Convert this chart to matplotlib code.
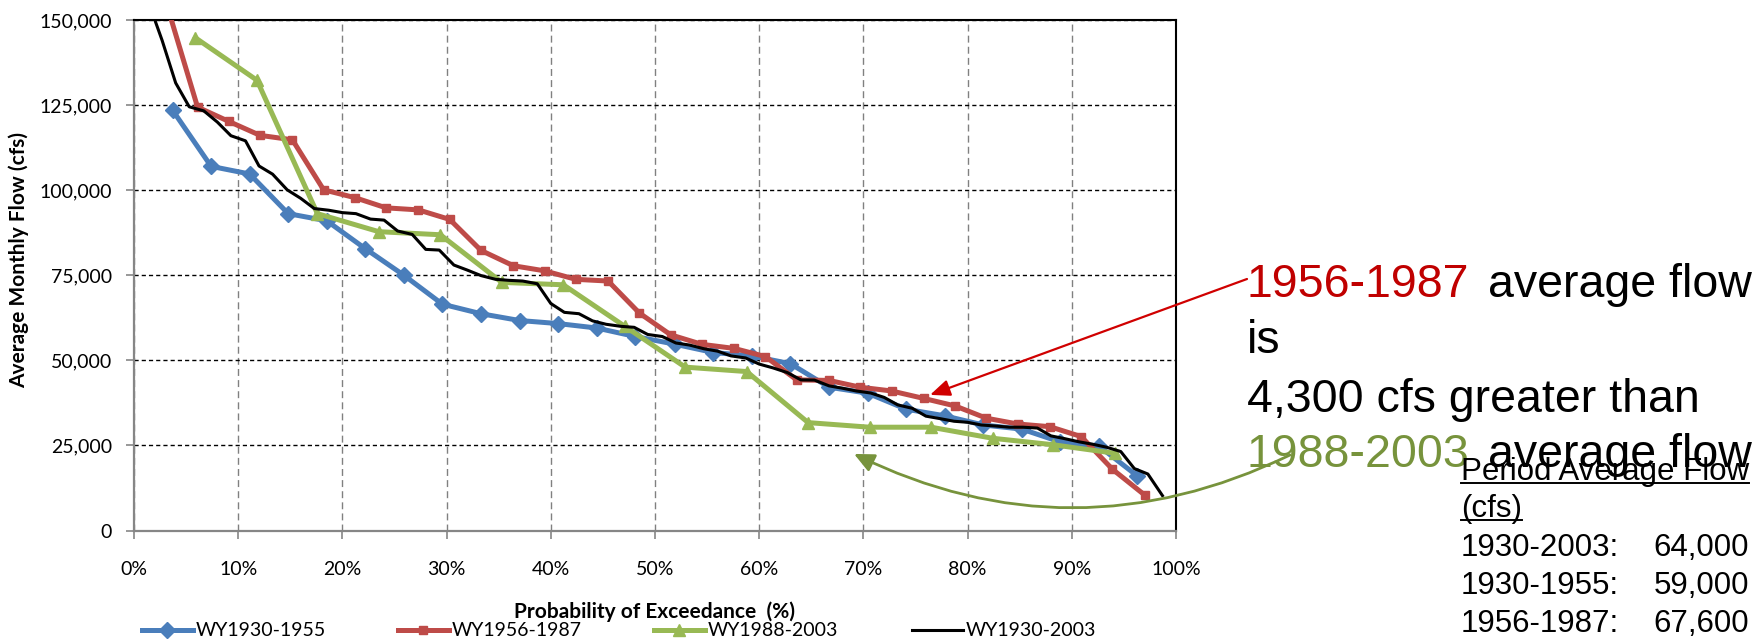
import matplotlib
matplotlib.use("Agg")
import matplotlib.pyplot as plt
from matplotlib.lines import Line2D
from matplotlib.ticker import FuncFormatter, MultipleLocator

# exceedance probability (%) and average monthly flow (cfs)
blue_x = [3.7, 7.4, 11.1, 14.8, 18.5, 22.2, 25.9, 29.6, 33.3, 37.0, 40.7, 44.4, 48.1,
          51.9, 55.6, 59.3, 63.0, 66.7, 70.4, 74.1, 77.8, 81.5, 85.2, 88.9, 92.6, 96.3]
blue_y = [123500, 107000, 104750, 93100, 91000, 82800, 75000, 66500, 63700, 61700, 60800,
          59500, 57000, 54750, 52300, 51300, 49000, 42100, 40350, 35650, 33700, 31000,
          29800, 26000, 24800, 16000]

red_x = [3.0, 6.1, 9.1, 12.1, 15.2, 18.2, 21.2, 24.2, 27.3, 30.3, 33.3, 36.4, 39.4, 42.4,
         45.5, 48.5, 51.5, 54.5, 57.6, 60.6, 63.6, 66.7, 69.7, 72.7, 75.8, 78.8, 81.8,
         84.8, 87.9, 90.9, 93.9, 97.0]
red_y = [156000, 124400, 120200, 116100, 114800, 100100, 97800, 94800, 94200, 91400, 82300,
         77800, 76300, 73800, 73300, 63900, 57500, 54700, 53500, 51100, 44250, 44100, 42100,
         41000, 38800, 36600, 33000, 31300, 30500, 27600, 18000, 10400]

green_x = [5.9, 11.8, 17.6, 23.5, 29.4, 35.3, 41.2, 47.1, 52.9, 58.8, 64.7, 70.6, 76.5,
           82.4, 88.2, 94.1]
green_y = [144750, 132300, 93100, 87800, 86900, 72900, 72200, 60000, 48000, 46700, 31700,
           30350, 30350, 27100, 25200, 22700]

black_x = [1.3, 2.7, 4.0, 5.3, 6.7, 8.0, 9.3, 10.7, 12.0, 13.3, 14.7, 16.0, 17.3, 18.7,
           20.0, 21.3, 22.7, 24.0, 25.3, 26.7, 28.0, 29.3, 30.7, 32.0, 33.3, 34.7, 36.0,
           37.3, 38.7, 40.0, 41.3, 42.7, 44.0, 45.3, 46.7, 48.0, 49.3, 50.7, 52.0, 53.3,
           54.7, 56.0, 57.3, 58.7, 60.0, 61.3, 62.7, 64.0, 65.3, 66.7, 68.0, 69.3, 70.7,
           72.0, 73.3, 74.7, 76.0, 77.3, 78.7, 80.0, 81.3, 82.7, 84.0, 85.3, 86.7, 88.0,
           89.3, 90.7, 92.0, 93.3, 94.7, 96.0, 97.3, 98.7]
black_y = [156000, 144000, 131500, 124500, 123300, 120000, 116000, 114500, 107100, 104700,
           100100, 97600, 94600, 94100, 93400, 93100, 91500, 91200, 88000, 87000, 82600,
           82400, 78000, 76500, 74900, 73800, 73500, 73300, 72500, 66700, 64100, 63700,
           61600, 60600, 60000, 59700, 57600, 57000, 55100, 54500, 53400, 52700, 51300,
           50700, 48900, 47800, 46400, 44250, 44200, 42500, 41800, 41000, 40400, 39100,
           36900, 35900, 33600, 32900, 32100, 31800, 31000, 30700, 30350, 30350, 30100,
           27800, 27000, 26050, 25350, 24500, 23200, 18200, 16600, 10250]

labels = ["WY1930-1955", "WY1956-1987", "WY1988-2003", "WY1930-2003"]
colors = ["#4A7EBB", "#BE4B48", "#98B954", "black"]
markers = ["D", "s", "^", None]
msizes = [8, 6, 8, 0]
widths = [3.6, 3.6, 3.6, 2.2]

period_names = ["1930-2003:", "1930-1955:", "1956-1987:"]
period_means = ["64,000", "59,000", "67,600"]

# arrow targets (data coords)
red_tip = (76.4, 39850)
green_tip = (69.1, 22500)

W, H = 1762, 642


def fx(px):
    return px / W


def fy(py):
    return 1 - py / H


fig = plt.figure(figsize=(W / 100, H / 100), dpi=100)
fig.patch.set_facecolor("white")
ax = fig.add_axes([fx(134), fy(530.5), 1042 / W, 510.5 / H])

series = [(blue_x, blue_y), (red_x, red_y), (green_x, green_y), (black_x, black_y)]
for (xs, ys), lab, c, m, ms, lw in zip(series, labels, colors, markers, msizes, widths):
    ax.plot(xs, ys, color=c, marker=m, markersize=ms, lw=lw, label=lab,
            solid_joinstyle="round", zorder=3)

ax.set_xlim(0, 100)
ax.set_ylim(0, 150000)
ax.xaxis.set_major_locator(MultipleLocator(10))
ax.yaxis.set_major_locator(MultipleLocator(25000))
ax.xaxis.set_major_formatter(FuncFormatter(lambda v, p: f"{v:.0f}%"))
ax.yaxis.set_major_formatter(FuncFormatter(lambda v, p: f"{v:,.0f}"))

ax.set_axisbelow(True)
ax.yaxis.grid(True, color="black", linestyle=(0, (3, 2.2)), lw=1.0)
ax.xaxis.grid(True, color="#808080", linestyle=(0, (5, 3)), lw=1.0)

for s in ["top", "right"]:
    ax.spines[s].set_color("black")
    ax.spines[s].set_linewidth(1.5)
for s in ["left", "bottom"]:
    ax.spines[s].set_color("#868686")
    ax.spines[s].set_linewidth(1.6)

tick_font = "Lato"
ax.tick_params(axis="both", direction="out", length=6, width=1.2, color="#868686",
               labelsize=14)
ax.tick_params(axis="y", pad=10)
ax.tick_params(axis="x", pad=16)
for t in ax.get_xticklabels() + ax.get_yticklabels():
    t.set_fontfamily(tick_font)

fig.text(fx(19), fy(260), "Average Monthly Flow (cfs)", rotation=90, ha="center",
         va="center", fontsize=15, fontweight="bold", family=tick_font)
fig.text(fx(655), fy(612), "Probability of Exceedance  (%)", ha="center", va="center",
         fontsize=15, fontweight="bold", family=tick_font)

# legend entries spread along the bottom
leg_left = [142, 398, 654, 912]
for lab, c, m, ms, lw, x0 in zip(labels, colors, markers, msizes, widths, leg_left):
    h = Line2D([], [], color=c, marker=m, markersize=ms, lw=lw)
    fig.legend([h], [lab], loc="center left", bbox_to_anchor=(fx(x0), fy(631)),
               frameon=False, handlelength=2.6, handletextpad=0.15, borderpad=0,
               borderaxespad=0, numpoints=1, prop={"family": tick_font, "size": 14})

# annotation text on the right
big = dict(fontsize=33.5, family="Liberation Sans", va="baseline", ha="left")
fig.text(fx(1246.7), fy(296.7), "1956-1987", color="#C00000", **big)
fig.text(fx(1488), fy(296.7), "average flow", color="black", **big)
fig.text(fx(1246.7), fy(352.7), "is", color="black", **big)
fig.text(fx(1246.7), fy(411.7), "4,300 cfs greater than", color="black", **big)
fig.text(fx(1246.7), fy(467.3), "1988-2003", color="#77933C", **big)
fig.text(fx(1488), fy(467.3), "average flow", color="black", **big)

small = dict(fontsize=22.5, family="Liberation Sans", va="baseline", color="black")
t_head = fig.text(fx(1460.7), fy(480), "Period Average Flow", ha="left", **small)
t_cfs = fig.text(fx(1460.7), fy(516.7), "(cfs)", ha="left", **small)
row_base = [556, 594, 631.7]
for name, val, yb in zip(period_names, period_means, row_base):
    fig.text(fx(1460.7), fy(yb), name, ha="left", **small)
    fig.text(fx(1749), fy(yb), val, ha="right", **small)

# arrows
ax.annotate("", xy=red_tip, xycoords="data", xytext=(1247, H - 279),
            textcoords="figure pixels", annotation_clip=False,
            arrowprops=dict(arrowstyle="-|>,head_length=0.6,head_width=0.25",
                            color="#D00000", lw=1.6, shrinkA=0, shrinkB=0,
                            mutation_scale=20))
ax.annotate("", xy=green_tip, xycoords="data", xytext=(1290, H - 455),
            textcoords="figure pixels", annotation_clip=False,
            arrowprops=dict(arrowstyle="-|>,head_length=0.6,head_width=0.28",
                            color="#77933C", lw=2.0, shrinkA=0, shrinkB=0,
                            mutation_scale=20, connectionstyle="arc3,rad=-0.243"))

# underline the table heading
fig.canvas.draw()
r = fig.canvas.get_renderer()
for t, yb in [(t_head, 480), (t_cfs, 516.7)]:
    bb = t.get_window_extent(r)
    yl = H - yb - 3.3
    fig.add_artist(Line2D([bb.x0 / W, bb.x1 / W], [yl / H, yl / H], color="black",
                          lw=1.4, transform=fig.transFigure))

fig.savefig("out.png", dpi=100)
